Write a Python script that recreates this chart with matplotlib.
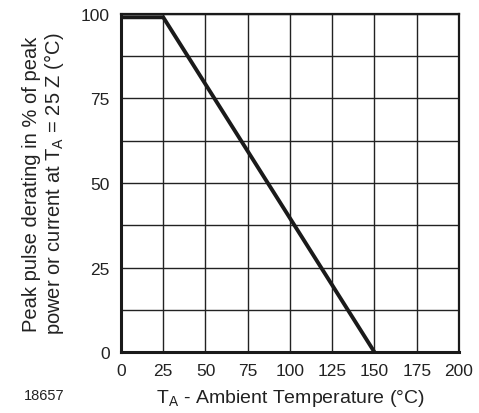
import matplotlib
matplotlib.use("Agg")
import matplotlib.pyplot as plt
import numpy as np

plt.rcParams['font.family'] = ['Liberation Sans', 'DejaVu Sans']

# derating curve
temp = [0, 25, 150]
derating = [99, 99, 0]

x_ticks = [0, 25, 50, 75, 100, 125, 150, 175, 200]
y_ticks = [0, 25, 50, 75, 100]

fig = plt.figure(figsize=(4.79, 4.14), dpi=100)
ax = fig.add_axes([0.2526, 0.147, 0.7056, 0.817])

ax.set_xlim(0, 200)
ax.set_ylim(0, 100)
ax.set_xticks(x_ticks)
ax.set_yticks(y_ticks)
ax.set_yticks(np.arange(0, 101, 12.5), minor=True)
ax.grid(True, which='major', axis='x', color='#222222', lw=1.0)
ax.grid(True, which='both', axis='y', color='#222222', lw=1.0)
ax.tick_params(which='both', length=0, labelsize=12.5, pad=8, colors='#222222')

ax.plot(temp, derating, color='#1a1a1a', lw=2.8, solid_joinstyle='miter')

for side in ['left', 'bottom']:
    ax.spines[side].set_linewidth(2.2)
for side in ['top', 'right']:
    ax.spines[side].set_linewidth(1.6)
for s in ax.spines.values():
    s.set_color('#1a1a1a')

ax.set_ylabel('Peak pulse derating in % of peak\npower or current at T$_\\mathregular{A}$ = 25 Z (°C)',
              fontsize=14.5, color='#222222', labelpad=11, linespacing=1.05)
ax.set_xlabel('T$_\\mathregular{A}$ - Ambient Temperature (°C)', fontsize=14,
              color='#222222', labelpad=6)

fig.text(0.05, 0.035, '18657', fontsize=10.5, color='#222222')

fig.savefig('out.png', dpi=100)
